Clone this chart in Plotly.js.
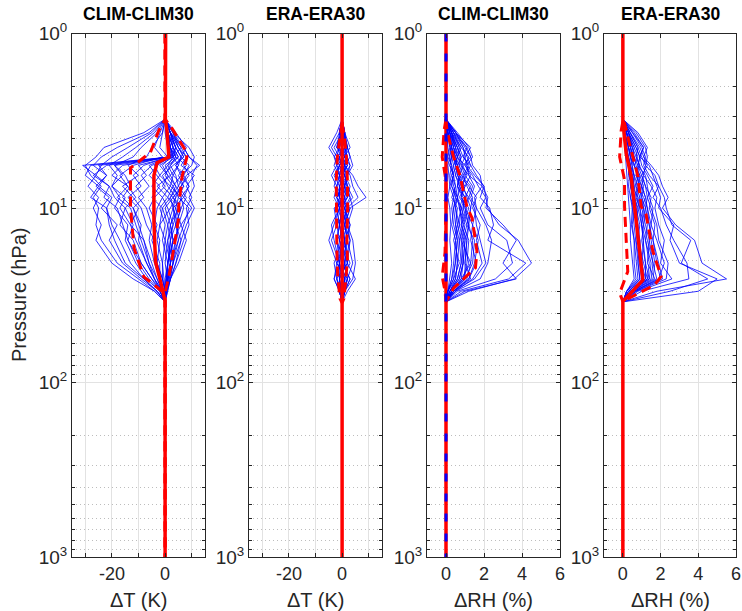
<!DOCTYPE html>
<html>
<head>
<meta charset="utf-8">
<script src="https://cdn.plot.ly/plotly-3.0.1.min.js"></script>
<style>html,body{margin:0;padding:0;background:#fff;}#chart{width:742px;height:611px;}</style>
</head>
<body>
<div id="chart"></div>
<script>
// ---------------- DATA ----------------
const panelTitles = ['CLIM-CLIM30', 'ERA-ERA30', 'CLIM-CLIM30', 'ERA-ERA30'];
const xTitles = ['\u0394T (K)', '\u0394T (K)', '\u0394RH (%)', '\u0394RH (%)'];
const yTitle = 'Pressure (hPa)';
const yTickVals = [1, 10, 100, 1000];
const yTickText = ['10<sup>0</sup>', '10<sup>1</sup>', '10<sup>2</sup>', '10<sup>3</sup>'];
const yMinorVals = [2,3,4,5,6,7,8,9,20,30,40,50,60,70,80,90,200,300,400,500,600,700,800,900];
const tTickVals = [-20, 0];
const tTickText = ['-20', '0'];
const tExtraTicks = [-30, -10, 10];
const rhTickVals = [0, 2, 4, 6];
const rhTickText = ['0', '2', '4', '6'];

// pressure levels (hPa) of the individual profiles
const profP = [3.1, 3.7, 4.5, 5.1, 5.7, 6.5, 7.5, 8.7, 10, 12.5, 15.3, 20.7, 25.5, 30, 34.5];

// CLIM-CLIM30 temperature differences (K)
const climT = [
  [0, -8, -23, -26, -30, -28, -24, -27, -25, -26, -24, -18, -10, -4, 0],
  [0, -6, -18, -24, -27, -22, -25, -20, -22, -21, -19, -15, -8, -3, 0],
  [0, -5, -14, -20, -24, -26, -21, -23, -18, -16, -14, -10, -6, -2, 0],
  [0, -4, -11, -16, -21, -18, -20, -15, -17, -13, -11, -7, -4, -1, 0],
  [0, -3, -9, -12, -19, -15, -13, -16, -12, -10, -8, -5, -3, -1, 0],
  [0, 1, 1.5, 2, -31, -26, -29, -25, -27, -24, -26, -20, -12, -4, 0],
  [0, 0.5, 1, 2, -28, -30, -25, -28, -22, -20, -17, -13, -8, -3, 0],
  [0, 1, 2, 2.5, -25, -22, -26, -21, -24, -18, -21, -16, -9, -3, 0],
  [0, 0.5, 1, 1.5, -22, -27, -21, -19, -15, -17, -12, -9, -5, -2, 0],
  [0, 1, 1.5, 2, -19, -16, -20, -17, -19, -14, -15, -11, -7, -2, 0],
  [0, 0.5, 1, 2, -16, -20, -14, -18, -13, -11, -9, -6, -4, -1, 0],
  [0, 3, 7, 9, 12, 10, 11, 9, 11, 8, 6, 4, 2, 1, 0],
  [0, 2, 5, 8, 6, 11, 8, 10, 8, 9, 7, 4, 2, 0.5, 0],
  [0, 4, 8, 6, 9, 7, 9, 6, 7, 5, 4, 3, 1.5, 0.5, 0],
  [0, 2, 4, 6, 4, 6, 3, 5, 4, 6, 3, 2, 1, 0, 0],
  [0, 1, 3, 5, 2, 4, 5, 2, 3, 1, 2, 1, 0.5, 0, 0],
  [0, 2, 6, 3, 1, -2, 2, -1, 1, 3, 1, 0, 1, 0, 0],
  [0, 1, 2, 4, 0, 2, -3, 1, -2, 0, -1, 1, 0, 0, 0],
  [0, 3, 5, 7, 3, -1, 1, 4, 2, -2, 0, -1, -1, 0, 0],
  [0, 1, 4, 2, -4, -2, -5, -1, -3, -4, -2, -3, -1, 0, 0],
  [0, 2, 7, 9, 13, 8, 6, 3, 5, 2, 3, 1, 1, 0, 0],
  [0, 1, 3, 1, -6, -3, 0, -4, -6, -3, -5, -2, -2, -0.5, 0],
  [0, 2, 4, 6, 5, 3, 7, 5, 9, 7, 5, 2, 1, 0.5, 0],
  [0, -1, -2, 1, -8, -12, -9, -14, -10, -13, -8, -6, -3, -1, 0],
  [0, 0, 1, 2, -10, -7, -11, -8, -12, -9, -10, -7, -4, -2, 0],
  [0, -2, -4, -1, -12, -17, -14, -11, -15, -12, -14, -9, -5, -1, 0],
  [0, 1, 2, 3, -5, -9, -6, -10, -7, -5, -6, -4, -2, -1, 0],
  [0, -1, -5, -7, -14, -10, -16, -12, -9, -7, -4, -3, -1, 0, 0],
  [0, 2, 5, 7, 4, 7, 5, 8, 6, 4, 5, 3, 2, 0.5, 0],
  [0, 1, 3, 4, 2, 0, 3, 1, 4, 2, 1, 2, 1, 0, 0],
  [0, 3, 6, 8, 7, 9, 6, 4, 3, 5, 4, 2, 1, 0.5, 0],
  [0, 1, 2, 3, -2, 1, -1, 3, 0, 2, 3, 1, 0.5, 0, 0],
  [0, 2, 3, 5, 1, 3, 2, 6, 5, 3, 2, 3, 1, 0.5, 0],
  [0, 0.5, 1, 2, -3, -6, -2, -5, -1, -2, -3, -1, -0.5, 0, 0],
  [0, 2, 4, 3, 5, 2, 4, 7, 3, 4, 6, 3, 1.5, 0.5, 0],
  [0, 1, 2, 4, 8, 5, 7, 3, 6, 4, 2, 1, 0.5, 0, 0],
  [0, 3, 9, 11, 10, 6, 9, 7, 10, 6, 8, 5, 2, 1, 0],
  [0, 1, 1, 2, -1, 1, 4, 2, -1, 1, 0, 2, 0.5, 0, 0]
];
// ERA-ERA30 temperature differences (K)
const eraT = [
  [0, -1, -4, -2, -3, -1, 0, -2, -1, -3, -5, -2, -3, -1, 0],
  [0, 1, 2, 3, 1, 4, 6, 9, 3, 1, 2, 1, 2, 1, 0],
  [0, -2, -5, -3, -1, -2, -3, -1, -2, -1, -2, -1, -3, -1, 0],
  [0, 1, 0, 2, 3, 1, 2, 3, 1, 2, 4, 5, 4, 1, 0],
  [0, 0, 1, -1, 0, 2, 1, 0, -1, 0, 1, 2, 5, 2, 0],
  [0, -1, -2, 0, 2, 0, -1, 1, 2, -2, -1, 0, 1, 0, 0],
  [0, 1, 3, 1, -1, 1, 3, 2, 0, 1, -1, 3, 0, -1, 0],
  [0, -0.5, -1, -3, -2, -4, -2, -3, -1, -4, -3, -1, -2, -1, 0],
  [0, 0.5, 2, 3, 4, 2, 1, 3, 4, 2, 3, 2, 1, 0.5, 0],
  [0, -1, 1, 2, 0, -1, 0, -2, 1, 3, 2, 4, 2, 1, 0],
  [0, 0, -3, -1, -2, 1, 2, 0, -2, -1, 0, -3, -2, 0, 0],
  [0, 1, 2, 0, 1, 3, 4, 6, 2, 0, 1, 0, 3, 1, 0],
  [0, -1, 0, 1, -1, -3, -1, 1, 0, 2, -2, 1, -1, -0.5, 0],
  [0, 0.5, 1, -2, 1, 0, -2, -1, 3, 1, 2, -2, 2, 0.5, 0],
  [0, -0.5, -2, 1, 3, 2, 0, 2, -3, -2, -4, -1, -1, 0, 0],
  [0, 1, 1, 2, -1, -2, 2, 4, 1, 3, 1, 2, -1, -1, 0],
  [0, 0, -1, 0, 1, 1, -1, -1, 0, -1, 0, -1, 0, 1, 0],
  [0, -1, 2, -2, 2, -1, 1, 0, 2, 1, 3, 1, 2, 0, 0],
  [0, 0.5, 1, 0, -1, 1, 2, 1, -1, 0, 1, -1, 1, 0.5, 0],
  [0, -0.5, -1, -2, 0, -1, 1, -2, 0, -1, -2, 0, -1, 0, 0],
  [0, 1, -1, 1, 2, 0, 1, 2, -1, 2, 0, 1, 0, 0.5, 0],
  [0, 0, 2, 1, -2, -1, -2, 0, 1, -1, 1, -2, 1, 0, 0],
  [0, -1, 1, -1, 0, 2, -1, -1, 2, 0, -1, 2, -2, -0.5, 0],
  [0, 0.5, -2, 2, 1, -2, 0, 1, -2, 1, 2, 0, 3, 1, 0]
];
// CLIM-CLIM30 relative humidity differences (%)
const climRH = [
  [0, 0.6, 1.2, 1.4, 1.1, 1.5, 2.0, 2.1, 2.2, 2.8, 3.8, 4.5, 3.6, 1.2, 0],
  [0, 0.5, 1.0, 1.3, 1.4, 1.8, 1.9, 2.2, 2.1, 3.0, 3.7, 3.0, 3.7, 1.0, 0],
  [0, 0.4, 1.1, 0.9, 1.3, 1.6, 2.0, 1.8, 2.3, 2.5, 2.2, 4.2, 3.3, 0.8, 0],
  [0, 0.3, 0.8, 1.2, 1.0, 1.4, 1.7, 2.1, 1.8, 2.2, 3.2, 3.5, 2.6, 0.6, 0],
  [0, 0.5, 1.3, 1.0, 0.8, 1.2, 1.9, 1.5, 1.6, 2.1, 2.4, 2.2, 1.8, 0.5, 0],
  [0, 0.4, 0.9, 1.1, 1.3, 1.0, 1.4, 1.2, 1.5, 1.6, 1.8, 2.1, 1.5, 0.4, 0],
  [0, 0.2, 0.5, 0.7, 0.9, 1.1, 0.8, 1.2, 1.0, 1.4, 1.3, 1.6, 1.2, 0.4, 0],
  [0, 0.3, 0.6, 0.5, 0.7, 0.6, 0.9, 0.8, 1.2, 0.9, 1.2, 1.1, 0.9, 0.3, 0],
  [0, 0.1, 0.3, 0.4, 0.5, 0.7, 0.6, 0.9, 0.7, 1.0, 0.8, 1.3, 0.8, 0.3, 0],
  [0, 0.2, 0.4, 0.3, 0.2, 0.4, 0.5, 0.3, 0.6, 0.5, 0.7, 0.6, 0.5, 0.2, 0],
  [0, 0.1, 0.2, 0.1, 0.3, 0.2, 0.3, 0.5, 0.4, 0.3, 0.5, 0.4, 0.3, 0.1, 0],
  [0, 0.05, 0.1, 0.2, 0.1, 0.15, 0.2, 0.1, 0.2, 0.25, 0.2, 0.3, 0.2, 0.1, 0],
  [0, 0.3, 0.7, 0.9, 1.2, 0.9, 1.1, 1.4, 1.3, 1.1, 1.5, 1.4, 1.0, 0.3, 0],
  [0, 0.2, 0.6, 0.8, 0.6, 0.8, 1.3, 1.0, 0.9, 1.2, 1.0, 0.9, 0.7, 0.2, 0],
  [0, 0.1, 0.4, 0.6, 0.4, 0.5, 0.7, 0.6, 0.8, 0.7, 0.9, 0.8, 0.6, 0.2, 0],
  [0, 0.4, 0.8, 0.6, 1.0, 1.3, 1.0, 0.7, 1.1, 0.8, 1.1, 1.0, 1.3, 0.4, 0],
  [0, 0.2, 0.3, 0.5, 0.6, 0.3, 0.4, 0.6, 0.5, 0.6, 0.4, 0.7, 0.4, 0.1, 0],
  [0, 0.5, 1.1, 1.3, 0.9, 0.7, 1.2, 1.6, 1.4, 1.8, 1.6, 1.9, 1.4, 0.5, 0],
  [0, 0.1, 0.2, 0.3, 0.2, 0.4, 0.2, 0.4, 0.3, 0.4, 0.6, 0.5, 0.4, 0.1, 0],
  [0, 0.3, 0.5, 0.4, 0.5, 0.8, 0.6, 1.0, 0.8, 1.1, 0.9, 1.2, 0.9, 0.3, 0],
  [0, 0.3, 0.6, 0.8, 0.7, 0.9, 0.7, 1.0, 0.9, 0.8, 1.0, 0.9, 0.7, 0.2, 0],
  [0, 0.2, 0.3, 0.4, 0.6, 0.5, 0.8, 0.6, 0.7, 0.9, 0.7, 0.8, 0.6, 0.2, 0],
  [0, 0.4, 0.7, 0.6, 0.8, 1.0, 0.9, 1.1, 1.3, 1.2, 1.4, 1.3, 1.1, 0.4, 0],
  [0, 0.1, 0.2, 0.3, 0.4, 0.3, 0.5, 0.4, 0.5, 0.7, 0.5, 0.6, 0.5, 0.1, 0],
  [0, 0.2, 0.5, 0.4, 0.6, 0.7, 0.6, 0.5, 0.8, 0.6, 0.8, 0.9, 0.8, 0.3, 0],
  [0, 0.3, 0.4, 0.6, 0.5, 0.6, 1.0, 0.8, 1.0, 1.2, 1.1, 1.0, 1.0, 0.3, 0],
  [0, 0.1, 0.3, 0.2, 0.3, 0.4, 0.3, 0.6, 0.4, 0.5, 0.6, 0.5, 0.3, 0.1, 0],
  [0, 0.5, 0.9, 1.0, 1.1, 1.2, 1.5, 1.3, 1.6, 1.4, 1.7, 1.5, 1.2, 0.4, 0]
];
// ERA-ERA30 relative humidity differences (%)
const eraRH = [
  [0, 0.8, 1.3, 1.1, 1.5, 1.9, 2.1, 2.4, 2.1, 2.8, 3.8, 4.2, 5.5, 1.8, 0],
  [0, 0.7, 1.2, 1.3, 1.2, 1.7, 1.9, 2.2, 2.3, 2.6, 3.6, 3.1, 4.5, 2.5, 0],
  [0, 0.6, 1.1, 0.9, 1.4, 1.6, 1.8, 2.0, 1.9, 2.7, 2.5, 3.0, 5.0, 4.0, 0],
  [0, 0.5, 1.0, 1.2, 1.1, 1.4, 1.9, 1.6, 2.0, 2.3, 2.7, 3.4, 3.5, 1.0, 0],
  [0, 0.4, 0.8, 1.0, 1.2, 1.1, 1.5, 1.8, 1.7, 1.9, 2.2, 2.0, 2.6, 0.8, 0],
  [0, 0.3, 0.7, 0.9, 0.8, 1.2, 1.3, 1.4, 1.6, 1.5, 1.8, 2.2, 1.9, 0.6, 0],
  [0, 0.2, 0.5, 0.6, 0.7, 0.9, 0.8, 1.1, 1.3, 1.4, 1.5, 1.7, 1.6, 0.5, 0],
  [0, 0.3, 0.6, 0.5, 0.6, 0.8, 1.0, 0.9, 1.1, 1.3, 1.2, 1.5, 1.4, 0.4, 0],
  [0, 0.1, 0.3, 0.4, 0.5, 0.6, 0.7, 0.8, 0.9, 1.0, 1.1, 1.2, 1.2, 0.4, 0],
  [0, 0.2, 0.4, 0.3, 0.4, 0.5, 0.6, 0.7, 0.6, 0.8, 0.9, 1.0, 1.1, 0.3, 0],
  [0, 0.1, 0.2, 0.2, 0.3, 0.4, 0.4, 0.5, 0.5, 0.6, 0.7, 0.8, 0.9, 0.3, 0],
  [0, 0.05, 0.1, 0.15, 0.2, 0.2, 0.25, 0.3, 0.35, 0.4, 0.4, 0.5, 0.6, 0.2, 0],
  [0, 0.4, 0.9, 1.1, 1.3, 1.0, 1.2, 1.5, 1.4, 1.7, 1.6, 1.9, 2.1, 0.7, 0],
  [0, 0.3, 0.5, 0.7, 0.9, 0.7, 1.0, 1.2, 1.0, 1.2, 1.4, 1.3, 1.7, 0.5, 0],
  [0, 0.2, 0.4, 0.5, 0.4, 0.6, 0.5, 0.8, 0.7, 0.9, 0.8, 1.1, 1.3, 0.4, 0],
  [0, 0.5, 1.1, 0.9, 1.0, 1.3, 1.6, 1.3, 1.5, 1.8, 1.9, 2.4, 2.3, 0.7, 0],
  [0, 0.1, 0.3, 0.2, 0.3, 0.3, 0.5, 0.4, 0.6, 0.5, 0.6, 0.7, 0.8, 0.2, 0],
  [0, 0.2, 0.6, 0.8, 0.6, 0.9, 1.1, 1.0, 1.2, 1.1, 1.3, 1.6, 1.5, 0.5, 0],
  [0, 0.2, 0.4, 0.6, 0.8, 0.7, 0.9, 1.0, 1.1, 1.0, 1.2, 1.4, 1.3, 0.4, 0],
  [0, 0.1, 0.3, 0.4, 0.3, 0.5, 0.6, 0.5, 0.7, 0.8, 0.7, 0.9, 1.0, 0.3, 0],
  [0, 0.3, 0.5, 0.4, 0.6, 0.8, 0.7, 0.9, 0.8, 1.0, 1.1, 1.0, 1.2, 0.4, 0],
  [0, 0.1, 0.2, 0.3, 0.4, 0.5, 0.4, 0.6, 0.8, 0.7, 0.9, 0.8, 0.9, 0.2, 0],
  [0, 0.4, 0.8, 0.7, 0.9, 1.1, 1.0, 1.2, 1.3, 1.5, 1.4, 1.6, 1.8, 0.6, 0],
  [0, 0.2, 0.3, 0.5, 0.5, 0.6, 0.8, 0.7, 0.9, 1.1, 1.0, 1.2, 1.4, 0.4, 0],
  [0, 0.05, 0.15, 0.2, 0.3, 0.35, 0.3, 0.4, 0.5, 0.45, 0.6, 0.6, 0.7, 0.2, 0],
  [0, 0.3, 0.7, 0.9, 0.8, 1.0, 1.2, 1.3, 1.2, 1.4, 1.6, 1.8, 2.0, 0.6, 0]
];

// statistics lines (mean: solid red; spread: dashed red)
const climT_meanP = [1, 3.1, 3.6, 5.1, 5.5, 6.5, 12, 20.3, 26.4, 34, 1000];
const climT_mean  = [0.2, 0.1, 0.7, 1.4, -3.0, -4.2, -4.2, -3.6, -1.7, 0, 0];
const climT_loP = [1, 3.1, 3.6, 4.8, 5.9, 7.9, 10, 17, 24.8, 30, 34, 1000];
const climT_lo  = [0, 0, -2.4, -5.5, -13, -13, -13, -11.7, -8, -1.1, 0, 0];
const climT_hiP = [1, 3.1, 3.5, 4.66, 5.1, 6.6, 9.8, 11.4, 17, 24.8, 30, 34, 1000];
const climT_hi  = [0, 0, 2.6, 7.6, 8.2, 6.4, 5.1, 5.1, 3.3, 1.4, 0.1, 0, 0];

const eraT_meanP = [1, 1000];
const eraT_mean  = [0, 0];
const eraT_sdP = [3.25, 4.1, 5.1, 7, 10, 15, 20, 25, 33, 35];
const eraT_lo  = [0, -1, -1.8, -2.2, -2, -2, -1.9, -1.6, -0.8, 0];
const eraT_hi  = [0, 1, 1.6, 2, 2.1, 1.8, 2, 1.5, 0.7, 0];

const climRH_zeroP = [1, 1000];
const climRH_zero  = [0, 0];
const climRH_loP = [3.1, 3.6, 5.1, 7, 10, 18, 24.7, 30, 34.5];
const climRH_lo  = [0, -0.1, -0.2, 0, 0, -0.05, -0.2, -0.05, 0];
const climRH_hiP = [3.1, 3.6, 5.1, 6.6, 8.2, 9.8, 11.4, 17.7, 22, 28.8, 34.5];
const climRH_hi  = [0, 0.05, 0.4, 0.75, 0.93, 1.1, 1.37, 1.63, 1.55, 0.4, 0];

const eraRH_meanP = [1, 3.2, 4.9, 6.6, 9.8, 25.9, 34.3, 1000];
const eraRH_mean  = [0, 0, 0.18, 0.44, 0.62, 1.06, 0, 0];
const eraRH_loP = [3.2, 3.6, 5.1, 6.9, 9.8, 14.9, 23.1, 30.8, 34.3];
const eraRH_lo  = [0, -0.09, -0.17, 0.09, 0.09, 0.18, 0.26, -0.17, 0];
const eraRH_hiP = [3.2, 3.26, 4.27, 6.6, 9.8, 10.9, 17.7, 24.7, 27.6, 31.3, 34.3];
const eraRH_hi  = [0, 0.09, 0.35, 0.8, 0.97, 1.23, 1.59, 2.03, 1.68, 0.7, 0];

// ---------------- BUILD ----------------
const FONT = 'Liberation Sans, Arial, Helvetica, sans-serif';
const traces = [];
function ax(k) { return k === 1 ? '' : String(k); }
function profiles(set, k) {
  set.forEach(v => traces.push({
    type: 'scatter', mode: 'lines', x: v, y: profP,
    xaxis: 'x' + ax(k), yaxis: 'y' + ax(k),
    line: {color: 'rgba(0,0,255,0.8)', width: 1}, hoverinfo: 'skip'
  }));
}
function stat(x, y, k, color, dash, width) {
  traces.push({
    type: 'scatter', mode: 'lines', x: x, y: y,
    xaxis: 'x' + ax(k), yaxis: 'y' + ax(k),
    line: {color: color, width: width, dash: dash}, hoverinfo: 'skip'
  });
}
const RED = '#ff0000';
const DASH = '10px,6px';
// panel 1
profiles(climT, 1);
stat(climT_lo, climT_loP, 1, RED, DASH, 3);
stat(climT_hi, climT_hiP, 1, RED, DASH, 3);
stat(climT_mean, climT_meanP, 1, RED, 'solid', 3.5);
// panel 2
profiles(eraT, 2);
stat(eraT_lo, eraT_sdP, 2, RED, DASH, 3);
stat(eraT_hi, eraT_sdP, 2, RED, DASH, 3);
stat(eraT_mean, eraT_meanP, 2, RED, 'solid', 3.5);
// panel 3
stat(climRH_zero, climRH_zeroP, 3, RED, 'solid', 3.5);
profiles(climRH, 3);
stat(climRH_lo, climRH_loP, 3, RED, DASH, 3);
stat(climRH_hi, climRH_hiP, 3, RED, DASH, 3);
stat(climRH_zero, climRH_zeroP, 3, '#0000ff', '8px,12px', 3);
// panel 4
profiles(eraRH, 4);
stat(eraRH_lo, eraRH_loP, 4, RED, DASH, 3);
stat(eraRH_hi, eraRH_hiP, 4, RED, DASH, 3);
stat(eraRH_mean, eraRH_meanP, 4, RED, 'solid', 3.5);

const W = 742, H = 611;
const panelPx = [[72, 205], [249, 382], [427, 560], [604, 736]];
const yDom = [1 - 557 / H, 1 - 33.5 / H];
const AXC = '#262626';
const GRID = '#e2e2e2';
const TICKFONT = {family: FONT, size: 18, color: AXC};
const layout = {
  width: W, height: H,
  margin: {l: 0, r: 0, t: 0, b: 0, autoexpand: false},
  paper_bgcolor: '#fff', plot_bgcolor: '#fff',
  font: {family: FONT, size: 18, color: AXC},
  showlegend: false,
  annotations: []
};
panelPx.forEach((px, i) => {
  const k = i + 1, s = ax(k);
  const isT = i < 2;
  const xa = {
    domain: [px[0] / W, px[1] / W], anchor: 'y' + s,
    range: isT ? [-35, 15] : [-1, 6],
    tickmode: 'array', tickvals: isT ? tTickVals : rhTickVals, ticktext: isT ? tTickText : rhTickText,
    ticks: 'inside', ticklen: 4, tickcolor: AXC, tickwidth: 1,
    showline: true, linecolor: AXC, linewidth: 1, mirror: 'ticks',
    showgrid: true, gridcolor: GRID, gridwidth: 1, zeroline: false,
    tickfont: TICKFONT, ticklabeloverflow: 'allow', automargin: false,
    fixedrange: true
  };
  if (isT) {
    xa.minor = {tickmode: 'array', tickvals: tExtraTicks, ticks: 'inside', ticklen: 4, tickcolor: AXC,
                showgrid: true, gridcolor: GRID, gridwidth: 1};
  }
  layout['xaxis' + s] = xa;
  layout['yaxis' + s] = {
    domain: yDom, anchor: 'x' + s, type: 'log', range: [3, 0],
    tickmode: 'array', tickvals: yTickVals, ticktext: yTickText,
    ticks: 'inside', ticklen: 4, tickcolor: AXC, tickwidth: 1,
    showline: true, linecolor: AXC, linewidth: 1, mirror: 'ticks',
    showgrid: true, gridcolor: GRID, gridwidth: 1, zeroline: false,
    tickfont: {family: FONT, size: 19, color: AXC}, ticklabeloverflow: 'allow', automargin: false,
    minor: {tickmode: 'array', tickvals: yMinorVals, ticks: 'inside', ticklen: 3, tickcolor: AXC,
            showgrid: true, gridcolor: '#bdbdbd', griddash: '1px,3px', gridwidth: 1},
    fixedrange: true
  };
  const cx = (px[0] + px[1]) / 2 / W;
  layout.annotations.push({
    text: '<b>' + panelTitles[i] + '</b>', xref: 'paper', yref: 'paper',
    x: cx, y: 1 - 14 / H, xanchor: 'center', yanchor: 'middle', showarrow: false,
    font: {family: FONT, size: 17.5, color: '#000'}
  });
  layout.annotations.push({
    text: xTitles[i], xref: 'paper', yref: 'paper',
    x: cx, y: 1 - 600 / H, xanchor: 'center', yanchor: 'middle', showarrow: false,
    font: {family: FONT, size: 20, color: AXC}
  });
});
layout.annotations.push({
  text: yTitle, xref: 'paper', yref: 'paper', textangle: -90,
  x: 19 / W, y: 1 - 295 / H, xanchor: 'center', yanchor: 'middle', showarrow: false,
  font: {family: FONT, size: 20, color: AXC}
});

Plotly.newPlot('chart', traces, layout, {staticPlot: true, displayModeBar: false});
</script>
</body>
</html>
